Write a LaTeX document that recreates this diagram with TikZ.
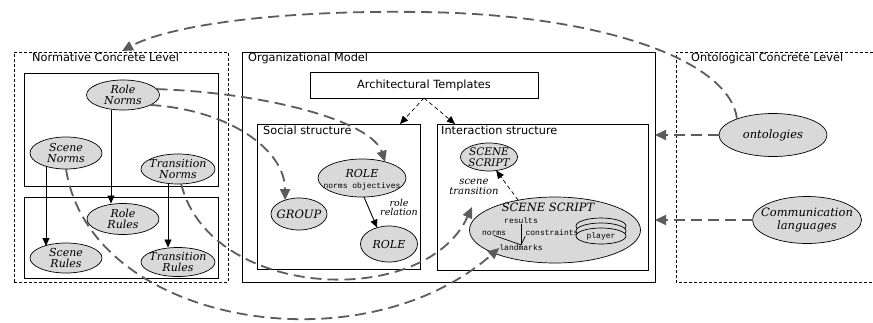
\documentclass[tikz,border=0pt]{standalone}
\usepackage{fontspec}
\setmainfont{DejaVu Serif}
\newfontfamily\ttlfont{DejaVu Sans}
\newfontfamily\monofnt{Liberation Mono}
\usetikzlibrary{shapes.geometric,arrows.meta}
\begin{document}
\begin{tikzpicture}[x=1pt,y=-1pt,
  box/.style={draw, line width=0.8pt, inner sep=0pt, outer sep=0pt, anchor=north west},
  dbox/.style={draw, line width=0.7pt, dash pattern=on 3pt off 2pt},
  ttl/.style={anchor=north west, inner sep=0pt, font=\ttlfont\fontsize{11.3}{12}\selectfont},
  el/.style={ellipse, draw, line width=0.7pt, fill=black!15, inner sep=0pt, outer sep=0pt},
  eltx/.style={align=center, inner sep=0pt, font=\itshape\fontsize{11}{11.5}\selectfont},
  mono/.style={inner sep=0pt, font=\monofnt\fontsize{8}{8.5}\selectfont},
  solidarr/.style={draw, line width=0.9pt, -{Triangle[length=8pt,width=7pt]}},
  thindash/.style={draw, line width=0.7pt, dash pattern=on 4pt off 3pt, -{Triangle[length=8pt,width=7pt]}},
  gdash/.style={draw=black!64, line width=1.8pt, dash pattern=on 11pt off 6pt, -{Triangle[length=11pt,width=10pt]}}
]
\useasboundingbox (0,0) rectangle (873,322);
\fill[white] (0,0) rectangle (873,322);

% ---- boxes
\node[box, dbox, minimum width=214pt, minimum height=230pt] (ncl) at (14,52) {};
\node[box, minimum width=194pt, minimum height=113pt] (nclT) at (24,73) {};
\node[box, minimum width=194pt, minimum height=81pt] (nclB) at (24,197) {};
\node[box, minimum width=413pt, minimum height=230pt] (org) at (242,52) {};
\node[box, minimum width=228pt, minimum height=26pt, font=\ttlfont\fontsize{11.3}{12}\selectfont] (arch) at (310,72) {Architectural Templates};
\node[box, minimum width=163pt, minimum height=145pt] (soc) at (257,124) {};
\node[box, minimum width=211pt, minimum height=146pt] (int) at (437,124) {};
\draw[dbox] (873,52) -| (676,282) -- (873,282);

% ---- titles
\node[ttl] (nclL) at (32,53) {Normative Concrete Level};
\node[ttl] (orgL) at (248,53) {Organizational Model};
\node[ttl] (socL) at (263,126) {Social structure};
\node[ttl] (intL) at (441,126) {Interaction structure};
\node[ttl] (ontL) at (691,53) {Ontological Concrete Level};

% ---- normative ellipses
\node[el, minimum width=73pt, minimum height=30pt] (rn) at (123,95) {};
\node[eltx] (rnT) at (rn) {Role\\Norms};
\node[el, minimum width=72pt, minimum height=32pt] (sn) at (66,153) {};
\node[eltx] (snT) at (sn) {Scene\\Norms};
\node[el, minimum width=74pt, minimum height=30pt] (tn) at (178,169) {};
\node[eltx] (tnT) at (tn) {Transition\\Norms};
\node[el, minimum width=72pt, minimum height=31pt] (rr) at (123,219) {};
\node[eltx] (rrT) at (rr) {Role\\Rules};
\node[el, minimum width=72pt, minimum height=30pt] (sr) at (66,258) {};
\node[eltx] (srT) at (sr) {Scene\\Rules};
\node[el, minimum width=74pt, minimum height=29pt] (tr) at (178,262) {};
\node[eltx] (trT) at (tr) {Transition\\Rules};

\draw[solidarr] ([xshift=-12pt]rn.south) -- ([xshift=-12pt]rr.north);
\draw[solidarr] ([xshift=-20pt,yshift=3pt]sn.south) -- ([xshift=-20pt,yshift=-3pt]sr.north);
\draw[solidarr] ([xshift=-10pt]tn.south) -- ([xshift=-10pt]tr.north);

% ---- social structure
\node[el, minimum width=88pt, minimum height=38pt] (roleU) at (362,178) {};
\node[eltx, anchor=base] (roleUT) at (362,177) {ROLE};
\node[mono, anchor=base] (roleUN) at (362,188) {norms objectives};
\node[el, minimum width=56pt, minimum height=32pt] (grp) at (299,214) {};
\node[eltx, font=\itshape\fontsize{11.5}{12}\selectfont] (grpT) at (grp) {GROUP};
\node[el, minimum width=57pt, minimum height=36pt] (roleL) at (389,244) {};
\node[eltx] (roleLT) at (roleL) {ROLE};
\draw[solidarr] (roleU.-84) -- (roleL.126);
\node[eltx, font=\itshape\fontsize{9.5}{9}\selectfont] (rrel) at (399,207) {role\\relation};

% ---- interaction structure
\node[el, minimum width=57pt, minimum height=28pt] (ss) at (489,157) {};
\node[eltx, font=\itshape\fontsize{10.5}{10.5}\selectfont] (ssT) at (ss) {SCENE\\SCRIPT};
\node[el, minimum width=171pt, minimum height=66pt] (big) at (555,230) {};
\node[eltx, font=\itshape\fontsize{11.5}{12}\selectfont] (bigT) at (548,207) {SCENE SCRIPT};
\node[mono] (res) at (521,221) {results};
\node[mono] (nrm) at (494,233) {norms};
\node[mono] (cons) at (552,233) {constraints};
\node[mono] (lm) at (521,248) {landmarks};
\draw[line width=0.7pt] (res.south) -- (lm.north);
\draw[line width=0.7pt] (nrm.south) -- (lm.north) -- (cons.south west);
\node[el, minimum width=50pt, minimum height=16pt] (p1) at (601,226) {};
\node[el, minimum width=50pt, minimum height=16pt] (p2) at (601,231) {};
\node[el, minimum width=50pt, minimum height=16pt] (p3) at (601,236) {};
\node[mono] (pT) at (p3) {player};
\draw[thindash] (big.141) -- (ss.-62);
\node[eltx, font=\itshape\fontsize{10}{9.5}\selectfont] (stl) at (474,187) {scene\\transition};

% ---- architectural templates arrows
\draw[thindash] (arch.south) -- ([xshift=-20pt]soc.north east);
\draw[thindash] (arch.south) -- ([xshift=18pt]int.north west);

% ---- ontological level
\node[el, minimum width=108pt, minimum height=43pt] (ont) at (773,135) {};
\node[eltx, font=\itshape\fontsize{11.5}{12}\selectfont] (ontT) at (ont) {ontologies};
\node[el, minimum width=109pt, minimum height=47pt] (com) at (807,220) {};
\node[eltx, font=\itshape\fontsize{11.5}{13}\selectfont] (comT) at (com) {Communication\\languages};

% ---- grey dashed connectors
\coordinate (arcEnd) at (122,51);
\coordinate (stTip) at (472,207);
\draw[gdash] (ont.west) -- (ont.west -| org.east);
\draw[gdash] (com.west) -- (com.west -| org.east);
\draw[gdash] (ont.156) .. controls (730,60) and (600,14) .. (420,12) .. controls (280,10) and (170,25) .. (arcEnd);
\draw[gdash] (rn.10) .. controls (270,93) and (372,122) .. (roleU.35);
\draw[gdash] (rn.-20) .. controls (230,110) and (285,150) .. (grp.135);
\draw[gdash] (tn.-78) .. controls (210,300) and (425,310) .. (stTip);
\draw[gdash] (sn.south) .. controls (90,324) and (360,370) .. (lm.west);
\end{tikzpicture}
\end{document}
